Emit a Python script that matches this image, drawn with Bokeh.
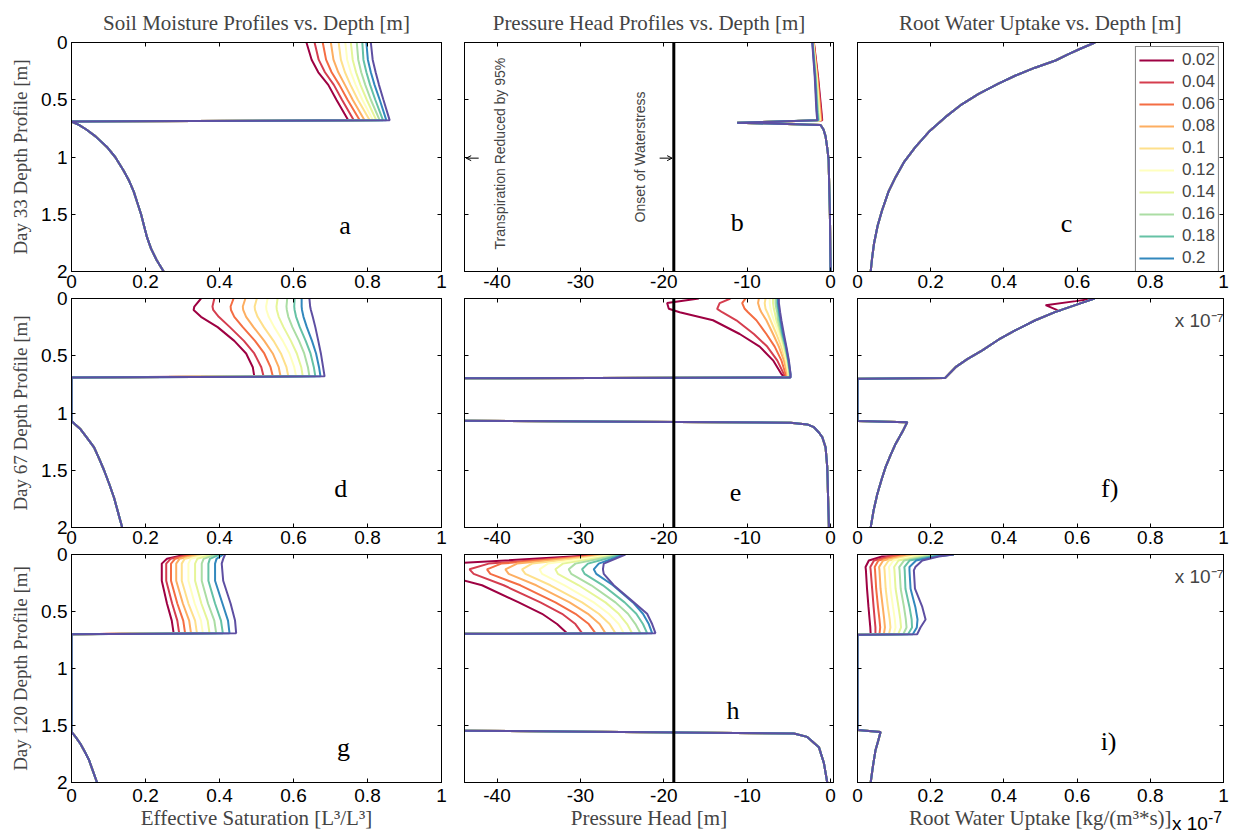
from math import pi
from bokeh.plotting import figure
from bokeh.layouts import column, row
from bokeh.models import (Range1d, LinearAxis, FixedTicker, Legend, LegendItem, Label, Span,
                          Arrow, OpenHead, Div)
from bokeh.embed import file_html
from bokeh.resources import INLINE

# ---------------- data ----------------
series_labels = ["0.02", "0.04", "0.06", "0.08", "0.1", "0.12", "0.14", "0.16", "0.18", "0.2", "0.22"]
legend_labels = series_labels[:10]
series_colors = ["#9e0142", "#d53e4f", "#f46d43", "#fdae61", "#fee08b", "#ffffbf",
                 "#e6f598", "#abdda4", "#66c2a5", "#3288bd", "#5e4fa2"]

depth_ticks = [0, 0.5, 1, 1.5, 2]
depth_tick_labels = ["0", "0.5", "1", "1.5", "2"]
frac_ticks = [0, 0.2, 0.4, 0.6, 0.8, 1]
frac_tick_labels = ["0", "0.2", "0.4", "0.6", "0.8", "1"]
head_ticks = [-40, -30, -20, -10, 0]
head_tick_labels = ["-40", "-30", "-20", "-10", "0"]
onset_head = -18.8

col_titles = ["Soil Moisture Profiles vs. Depth [m]", "Pressure Head Profiles vs. Depth [m]",
              "Root Water Uptake vs. Depth [m]"]
row_labels = ["Day 33 Depth Profile [m]", "Day 67 Depth Profile [m]", "Day 120 Depth Profile [m]"]
x_labels = ["Effective Saturation [L³/L³]", "Pressure Head [m]", "Root Water Uptake [kg/(m³*s)]"]
exponent_html = "x 10<sup>-7</sup>"
exponent_text = "x 10⁻⁷"
panel_letters = ["a", "b", "c", "d", "e", "f)", "g", "h", "i)"]

# Panel a: Day 33 effective saturation
a_upper_depth = [0, 0.15, 0.26, 0.37, 0.5, 0.68]
a_upper_sat = [
    [0.635, 0.649, 0.667, 0.694, 0.716, 0.748],
    [0.657, 0.668, 0.685, 0.709, 0.731, 0.763],
    [0.679, 0.688, 0.703, 0.724, 0.746, 0.779],
    [0.701, 0.708, 0.721, 0.739, 0.760, 0.792],
    [0.722, 0.728, 0.739, 0.754, 0.774, 0.806],
    [0.740, 0.745, 0.755, 0.768, 0.786, 0.815],
    [0.755, 0.760, 0.769, 0.781, 0.798, 0.824],
    [0.771, 0.775, 0.783, 0.794, 0.809, 0.833],
    [0.786, 0.789, 0.797, 0.807, 0.821, 0.842],
    [0.797, 0.801, 0.809, 0.819, 0.833, 0.851],
    [0.809, 0.814, 0.822, 0.831, 0.843, 0.860],
]
a_lower_depth = [0.69, 0.72, 0.76, 0.82, 0.91, 1.0, 1.12, 1.21, 1.3, 1.4, 1.5, 1.6, 1.7, 1.8, 1.9, 2.0]
a_lower_sat = [0.0, 0.02, 0.04, 0.065, 0.095, 0.118, 0.141, 0.156, 0.168, 0.178, 0.188, 0.196,
               0.204, 0.215, 0.23, 0.249]

# Panel b: Day 33 pressure head
b_upper_depth = [0, 0.3, 0.6, 0.68]
b_upper_head = [
    [-2.00, -1.50, -1.10, -1.00],
    [-2.02, -1.55, -1.16, -1.06],
    [-2.04, -1.59, -1.22, -1.12],
    [-2.06, -1.63, -1.28, -1.18],
    [-2.08, -1.67, -1.34, -1.24],
    [-2.10, -1.70, -1.40, -1.30],
    [-2.12, -1.74, -1.46, -1.36],
    [-2.14, -1.78, -1.52, -1.42],
    [-2.16, -1.82, -1.58, -1.48],
    [-2.18, -1.86, -1.64, -1.54],
    [-2.20, -1.90, -1.70, -1.60],
]
b_lower_depth = [0.70, 0.72, 0.76, 0.82, 0.92, 1.02, 1.5, 2.0]
b_lower_head = [-11.2, -1.2, -0.85, -0.6, -0.4, -0.24, -0.08, 0.0]

# Panel c: Day 33 root water uptake (x 1e-7)
c_depth = [0, 0.05, 0.1, 0.157, 0.22, 0.288, 0.36, 0.448, 0.54, 0.652, 0.78, 0.914, 1.04,
           1.176, 1.3, 1.467, 1.6, 1.758, 1.88, 2.0]
c_rwu = [0.649, 0.612, 0.578, 0.541, 0.485, 0.432, 0.385, 0.331, 0.285, 0.240, 0.195, 0.158,
         0.128, 0.104, 0.085, 0.067, 0.055, 0.045, 0.040, 0.036]

# Panel d: Day 67 effective saturation
d_upper_depth = [0, 0.07, 0.10, 0.16, 0.25, 0.37, 0.48, 0.60, 0.68]
d_upper_sat = [
    [0.350, 0.332, 0.330, 0.350, 0.395, 0.440, 0.472, 0.490, 0.494],
    [0.386, 0.381, 0.383, 0.398, 0.428, 0.466, 0.494, 0.513, 0.519],
    [0.438, 0.430, 0.431, 0.440, 0.463, 0.496, 0.521, 0.538, 0.544],
    [0.470, 0.463, 0.464, 0.472, 0.492, 0.521, 0.544, 0.560, 0.565],
    [0.501, 0.495, 0.496, 0.503, 0.520, 0.546, 0.566, 0.581, 0.586],
    [0.530, 0.526, 0.527, 0.533, 0.548, 0.571, 0.589, 0.602, 0.607],
    [0.557, 0.554, 0.555, 0.560, 0.573, 0.593, 0.609, 0.621, 0.625],
    [0.583, 0.581, 0.582, 0.586, 0.597, 0.615, 0.629, 0.639, 0.643],
    [0.603, 0.602, 0.603, 0.607, 0.617, 0.633, 0.646, 0.655, 0.659],
    [0.622, 0.622, 0.623, 0.627, 0.636, 0.650, 0.661, 0.669, 0.673],
    [0.643, 0.645, 0.647, 0.652, 0.659, 0.667, 0.674, 0.680, 0.684],
]
d_lower_depth = [0.69, 1.07, 1.10, 1.14, 1.20, 1.30, 1.40, 1.50, 1.62, 1.74, 1.87, 2.0]
d_lower_sat = [0.0, 0.0, 0.010, 0.024, 0.038, 0.061, 0.075, 0.088, 0.102, 0.115, 0.126, 0.137]

# Panel e: Day 67 pressure head
e_upper_depth = [0, 0.04, 0.09, 0.12, 0.19, 0.31, 0.42, 0.54, 0.66, 0.69]
e_upper_head = [
    [-15.8, -19.6, -19.4, -18.1, -14.1, -10.9, -8.5, -6.9, -5.9, -5.5],
    [-12.0, -13.3, -13.6, -13.0, -11.3, -9.2, -7.6, -6.4, -5.6, -5.4],
    [-10.2, -10.6, -10.3, -9.9, -8.9, -7.7, -6.7, -5.9, -5.4, -5.3],
    [-8.6, -8.7, -8.5, -8.3, -7.7, -6.9, -6.2, -5.6, -5.2, -5.2],
    [-7.8, -7.9, -7.8, -7.6, -7.2, -6.5, -5.9, -5.4, -5.1, -5.1],
    [-7.3, -7.3, -7.2, -7.1, -6.8, -6.2, -5.7, -5.3, -5.0, -5.0],
    [-6.9, -6.9, -6.8, -6.7, -6.5, -6.0, -5.6, -5.2, -4.95, -4.95],
    [-6.6, -6.6, -6.5, -6.4, -6.3, -5.9, -5.5, -5.1, -4.9, -4.9],
    [-6.4, -6.4, -6.3, -6.25, -6.1, -5.8, -5.4, -5.1, -4.85, -4.85],
    [-6.3, -6.3, -6.2, -6.15, -6.0, -5.7, -5.35, -5.05, -4.8, -4.8],
    [-6.2, -6.2, -6.1, -6.05, -5.9, -5.6, -5.3, -5.0, -4.8, -4.8],
]
e_lower_depth = [0.70, 1.06, 1.085, 1.10, 1.124, 1.17, 1.21, 1.30, 1.47, 2.0]
e_lower_head = [-60, -60, -4.8, -2.8, -2.0, -1.4, -1.0, -0.6, -0.4, -0.2]

# Panel f: Day 67 root water uptake (x 1e-7)
f_upper_depth = [0, 0.023, 0.058, 0.102, 0.117, 0.19, 0.277, 0.36, 0.453, 0.53, 0.6, 0.695]
f_upper_rwu_driest = [0.648, 0.596, 0.514, 0.546, 0.541, 0.486, 0.432, 0.385, 0.341, 0.300, 0.268, 0.239]
f_upper_rwu_others = [0.648, 0.627, 0.595, 0.555, 0.541, 0.486, 0.432, 0.385, 0.341, 0.300, 0.268, 0.239]
f_lower_depth = [0.70, 1.07, 1.08, 1.15, 1.27, 1.37, 1.47, 1.59, 1.71, 1.85, 2.0]
f_lower_rwu = [0.0, 0.0, 0.136, 0.125, 0.104, 0.090, 0.077, 0.065, 0.054, 0.044, 0.036]

# Panel g: Day 120 effective saturation
g_upper_depth = [0, 0.038, 0.08, 0.23, 0.43, 0.58, 0.69]
g_upper_sat = [
    [0.310, 0.258, 0.244, 0.244, 0.258, 0.271, 0.276],
    [0.320, 0.268, 0.256, 0.256, 0.272, 0.286, 0.291],
    [0.330, 0.280, 0.269, 0.269, 0.286, 0.302, 0.307],
    [0.345, 0.292, 0.283, 0.283, 0.301, 0.318, 0.323],
    [0.360, 0.306, 0.298, 0.298, 0.316, 0.334, 0.339],
    [0.370, 0.322, 0.316, 0.316, 0.333, 0.350, 0.355],
    [0.380, 0.340, 0.334, 0.334, 0.351, 0.368, 0.373],
    [0.390, 0.357, 0.352, 0.352, 0.369, 0.386, 0.391],
    [0.400, 0.374, 0.370, 0.370, 0.388, 0.404, 0.409],
    [0.410, 0.392, 0.388, 0.388, 0.408, 0.423, 0.427],
    [0.415, 0.410, 0.406, 0.410, 0.430, 0.442, 0.445],
]
g_lower_depth = [0.70, 1.556, 1.60, 1.66, 1.73, 1.80, 1.90, 2.0]
g_lower_sat = [0.0, 0.0, 0.011, 0.024, 0.036, 0.047, 0.058, 0.069]

# Panel h: Day 120 pressure head
h_upper_depth = [0, 0.08, 0.13, 0.17, 0.27, 0.42, 0.52, 0.61, 0.69]
h_upper_head = [
    [-27.0, -45.5, -48.0, -47.0, -41.8, -37.4, -34.6, -32.8, -31.6],
    [-26.8, -41.0, -43.3, -42.8, -39.2, -34.8, -32.2, -30.6, -29.8],
    [-26.5, -39.5, -41.2, -40.8, -37.2, -33.0, -30.6, -29.0, -28.2],
    [-26.2, -37.6, -39.0, -38.6, -35.3, -31.3, -29.1, -27.7, -27.0],
    [-26.0, -35.8, -37.0, -36.6, -33.6, -29.8, -27.8, -26.5, -25.8],
    [-25.7, -33.9, -34.9, -34.6, -31.9, -28.4, -26.6, -25.4, -24.8],
    [-25.4, -32.1, -33.0, -32.7, -30.2, -27.0, -25.4, -24.4, -23.8],
    [-25.2, -30.6, -31.4, -31.1, -28.7, -25.8, -24.3, -23.4, -22.8],
    [-25.0, -29.1, -29.8, -29.5, -27.3, -24.7, -23.3, -22.5, -22.0],
    [-24.8, -27.8, -28.4, -28.1, -26.1, -23.7, -22.5, -21.8, -21.4],
    [-24.6, -27.2, -27.3, -27.2, -26.0, -23.6, -22.0, -21.4, -21.0],
]
h_lower_depth = [0.70, 1.535, 1.57, 1.60, 1.69, 1.83, 2.0]
h_lower_head = [-60, -60, -4.4, -2.8, -1.4, -0.8, -0.4]

# Panel i: Day 120 root water uptake (x 1e-7)
i_upper_depth = [0, 0.018, 0.053, 0.11, 0.14, 0.30, 0.46, 0.57, 0.64, 0.70]
i_upper_rwu = [
    [0.263, 0.067, 0.031, 0.022, 0.023, 0.026, 0.030, 0.033, 0.035, 0.036],
    [0.263, 0.085, 0.045, 0.035, 0.036, 0.040, 0.044, 0.047, 0.049, 0.049],
    [0.263, 0.100, 0.057, 0.047, 0.048, 0.051, 0.056, 0.060, 0.062, 0.060],
    [0.263, 0.118, 0.070, 0.059, 0.060, 0.063, 0.069, 0.073, 0.075, 0.072],
    [0.263, 0.135, 0.085, 0.073, 0.074, 0.077, 0.083, 0.088, 0.090, 0.086],
    [0.263, 0.152, 0.098, 0.086, 0.087, 0.090, 0.097, 0.102, 0.104, 0.099],
    [0.263, 0.168, 0.112, 0.100, 0.101, 0.104, 0.112, 0.117, 0.119, 0.111],
    [0.263, 0.185, 0.127, 0.114, 0.115, 0.118, 0.127, 0.132, 0.134, 0.125],
    [0.263, 0.200, 0.142, 0.128, 0.129, 0.131, 0.142, 0.148, 0.149, 0.138],
    [0.263, 0.212, 0.160, 0.142, 0.142, 0.145, 0.158, 0.164, 0.162, 0.151],
    [0.263, 0.222, 0.177, 0.158, 0.154, 0.157, 0.177, 0.186, 0.172, 0.163],
]
i_lower_depth = [0.705, 1.54, 1.556, 1.64, 1.72, 1.86, 2.0]
i_lower_rwu = [0.0, 0.0, 0.063, 0.056, 0.049, 0.042, 0.036]

# ---------------- layout / styling ----------------
SERIF = "Liberation Serif"
SANS = "Liberation Sans"
col_w = [452, 393, 392]
border_l = [71, 12, 12]
border_r = [11, 12, 14]
OVERLAP = 15                      # rows 2 and 3 slide up under the row above (transparent border)
row_h = [296, 271, 303]
border_t = [42, 17, 17]
border_b = [25, 25, 58]
tick_standoff = [3, 3, 6]

panel_data = [
    [(a_upper_depth, a_upper_sat, a_lower_depth, a_lower_sat),
     (b_upper_depth, b_upper_head, b_lower_depth, b_lower_head),
     (c_depth, [c_rwu for _ in series_labels], [], [])],
    [(d_upper_depth, d_upper_sat, d_lower_depth, d_lower_sat),
     (e_upper_depth, e_upper_head, e_lower_depth, e_lower_head),
     (f_upper_depth, [f_upper_rwu_driest] + [f_upper_rwu_others for _ in series_labels[1:]],
      f_lower_depth, f_lower_rwu)],
    [(g_upper_depth, g_upper_sat, g_lower_depth, g_lower_sat),
     (h_upper_depth, h_upper_head, h_lower_depth, h_lower_head),
     (i_upper_depth, i_upper_rwu, i_lower_depth, i_lower_rwu)],
]

letter_pos = [(0.739, 1.60), (-11.2, 1.57), (0.571, 1.58),
              (0.728, 1.66), (-11.4, 1.69), (0.689, 1.66),
              (0.735, 1.69), (-11.7, 1.37), (0.686, 1.64)]


def style_axis(ax, ticks, labels, show, standoff=0):
    ax.ticker = FixedTicker(ticks=ticks, minor_ticks=[])
    ax.major_label_overrides = {t: l for t, l in zip(ticks, labels)}
    ax.major_tick_in = 4
    ax.major_tick_out = 0
    ax.minor_tick_in = 0
    ax.minor_tick_out = 0
    ax.axis_line_color = "black"
    ax.major_tick_line_color = "black"
    if show:
        ax.major_label_text_font = SANS
        ax.major_label_text_font_size = "19px"
        ax.major_label_text_color = "black"
        ax.major_label_standoff = standoff
    else:
        ax.major_label_text_font_size = "0px"
        ax.major_label_text_color = None
        ax.major_label_standoff = 0


rows = []
for r in range(3):
    row_figs = []
    for c in range(3):
        xr = Range1d(-43.9, 0.35) if c == 1 else Range1d(0, 1)
        kw = {}
        if r == 0:
            kw["title"] = col_titles[c]
        p = figure(width=col_w[c], height=row_h[r], x_range=xr, y_range=Range1d(2, 0),
                   output_backend="svg", toolbar_location=None,
                   min_border_left=border_l[c], min_border_right=border_r[c],
                   min_border_top=border_t[r], min_border_bottom=border_b[r], **kw)
        p.grid.visible = False
        p.outline_line_color = "black"
        p.background_fill_color = "white"
        p.border_fill_color = None
        if r == 0:
            p.title.text_font = SERIF
            p.title.text_font_size = "21px"
            p.title.text_font_style = "normal"
            p.title.align = "center"
            p.title.standoff = 16

        xt, xl = (head_ticks, head_tick_labels) if c == 1 else (frac_ticks, frac_tick_labels)
        xa = p.below[0]
        ya = p.left[0]
        style_axis(xa, xt, xl, True, tick_standoff[r])
        style_axis(ya, depth_ticks, depth_tick_labels, c == 0, 4)
        top_ax = LinearAxis()
        style_axis(top_ax, xt, xl, False)
        p.add_layout(top_ax, "above")
        right_ax = LinearAxis()
        style_axis(right_ax, depth_ticks, depth_tick_labels, False)
        p.add_layout(right_ax, "right")

        if c == 0:
            ya.axis_label = row_labels[r]
            ya.axis_label_text_font = SERIF
            ya.axis_label_text_font_size = "19px"
            ya.axis_label_text_font_style = "normal"
            ya.axis_label_standoff = 7
        if r == 2:
            xa.axis_label = x_labels[c]
            xa.axis_label_text_font = SERIF
            xa.axis_label_text_font_size = "21px"
            xa.axis_label_text_font_style = "normal"
            xa.axis_label_standoff = 1

        upper_depth, upper_vals, lower_depth, lower_vals = panel_data[r][c]
        rends = []
        for k in range(len(series_labels)):
            xs = list(upper_vals[k]) + list(lower_vals)
            ys = list(upper_depth) + list(lower_depth)
            rends.append(p.line(xs, ys, line_color=series_colors[k], line_width=2))

        if c == 1:
            p.add_layout(Span(location=onset_head, dimension="height",
                              line_color="black", line_width=3))

        lx, ly = letter_pos[3 * r + c]
        p.add_layout(Label(x=lx, y=ly, text=panel_letters[3 * r + c], text_font=SERIF,
                           text_font_size="26px", text_align="center",
                           text_baseline="middle", text_color="black"))

        if r == 0 and c == 1:
            p.add_layout(Label(x=-39.7, y=0.97, text="Transpiration Reduced by 95%",
                               angle=pi / 2, text_font=SANS, text_font_size="14px",
                               text_align="center", text_baseline="middle"))
            p.add_layout(Label(x=-22.8, y=1.0, text="Onset of Waterstress",
                               angle=pi / 2, text_font=SANS, text_font_size="14px",
                               text_align="center", text_baseline="middle"))
            p.add_layout(Arrow(end=OpenHead(size=5, line_width=1, line_color="black"),
                               x_start=-42.2, y_start=1.01, x_end=-43.7, y_end=1.01,
                               line_width=1, line_color="black"))
            p.add_layout(Arrow(end=OpenHead(size=5, line_width=1, line_color="black"),
                               x_start=-20.5, y_start=1.01, x_end=-19.0, y_end=1.01,
                               line_width=1, line_color="black"))

        if c == 2 and r > 0:
            p.add_layout(Label(x=1.0, y=0.19, text=exponent_text, text_font=SANS,
                               text_font_size="19px", text_align="right",
                               text_baseline="middle"))

        if r == 0 and c == 2:
            legend = Legend(items=[LegendItem(label=legend_labels[k], renderers=[rends[k]])
                                   for k in range(len(legend_labels))],
                            location="top_right")
            legend.label_text_font = SANS
            legend.label_text_font_size = "17px"
            legend.glyph_width = 35
            legend.glyph_height = 20
            legend.label_height = 20
            legend.spacing = 2
            legend.padding = 3
            legend.margin = 4
            legend.label_standoff = 8
            legend.border_line_color = "black"
            legend.border_line_width = 1
            legend.background_fill_color = "white"
            legend.background_fill_alpha = 1
            p.add_layout(legend)

        row_figs.append(p)
    rw = row(*row_figs, spacing=0)
    if r > 0:
        rw.margin = (-OVERLAP, 0, 0, 0)
    rows.append(rw)

# exponent that follows the Root Water Uptake axis label (below the lower-right panel)
exponent_div = Div(text=exponent_html, width=62, height=26, margin=(-33, 0, 0, 1172),
                   styles={"font-family": "'Liberation Sans', Arial, sans-serif",
                           "font-size": "19px", "line-height": "22px", "color": "black",
                           "white-space": "nowrap"})
rows.append(exponent_div)

layout = column(*rows, spacing=0)
open("out.html", "w").write(file_html(layout, INLINE))
